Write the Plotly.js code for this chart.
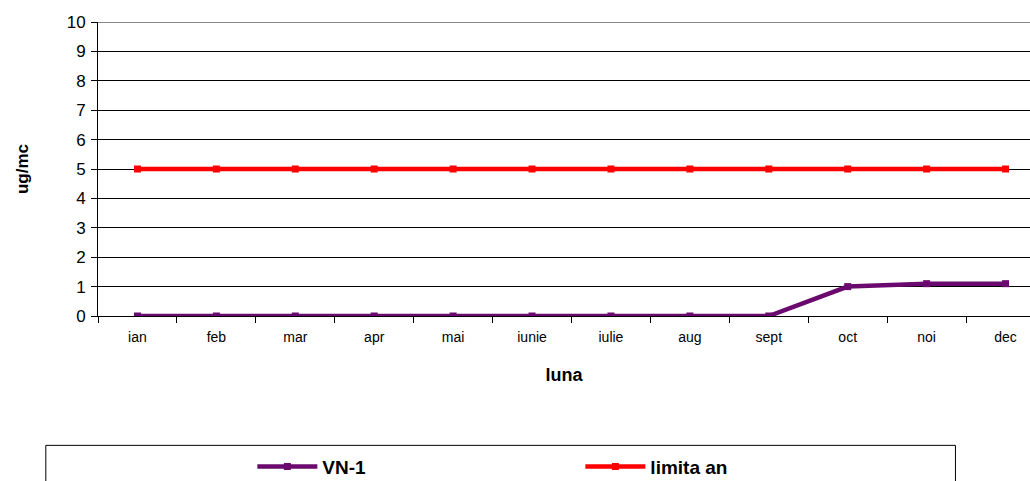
<!DOCTYPE html>
<html>
<head>
<meta charset="utf-8">
<script src="https://cdn.plot.ly/plotly-3.0.1.min.js"></script>
<style>html,body{margin:0;padding:0;background:#fff;}#chart{width:1030px;height:481px;}</style>
</head>
<body>
<div id="chart"></div>
<script>
var months = ["ian","feb","mar","apr","mai","iunie","iulie","aug","sept","oct","noi","dec"];
var vn1 = [0,0,0,0,0,0,0,0,0,1.0,1.1,1.1];
var limita = [5,5,5,5,5,5,5,5,5,5,5,5];
var yTicks = [0,1,2,3,4,5,6,7,8,9,10];

var traces = [
  {x: months, y: vn1, name: "VN-1", type: "scatter", mode: "lines+markers",
   line: {color: "#6B0A6E", width: 4.5}, marker: {symbol: "square", size: 7, color: "#6B0A6E"}},
  {x: months, y: limita, name: "limita an", type: "scatter", mode: "lines+markers",
   line: {color: "#FF0000", width: 4.5}, marker: {symbol: "square", size: 7, color: "#FF0000"}}
];

var layout = {
  width: 1030, height: 481,
  margin: {l: 98, r: 0, t: 22, b: 165, autoexpand: false},
  paper_bgcolor: "#fff", plot_bgcolor: "#fff",
  font: {family: "Liberation Sans, Arial, sans-serif", color: "#000"},
  showlegend: true,
  legend: {orientation: "h", xref: "container", yref: "container",
           x: 0.245, xanchor: "left", y: 0.03, yanchor: "middle",
           entrywidth: 253, entrywidthmode: "pixels", itemwidth: 60,
           font: {size: 19, weight: "bold", family: "Liberation Sans, Arial, sans-serif"}, bgcolor: "rgba(0,0,0,0)"},
  xaxis: {
    type: "category", range: [-0.5, 11.31], tickson: "boundaries",
    ticks: "outside", ticklen: 6, tickcolor: "#000",
    showline: true, linecolor: "#000", linewidth: 1,
    showgrid: false, zeroline: false, ticklabelstandoff: 8,
    tickfont: {size: 14},
    title: {text: "<b>luna</b>", font: {size: 18}, standoff: 24}
  },
  yaxis: {
    range: [0, 10], tickvals: yTicks, ticktext: yTicks.map(String),
    ticks: "outside", ticklen: 6, tickcolor: "#000",
    showline: true, linecolor: "#000", linewidth: 1,
    showgrid: true, gridcolor: "#000", gridwidth: 1, zeroline: false,
    ticklabelstandoff: 2,
    tickfont: {size: 17},
    title: {text: "<b>ug/mc</b>", font: {size: 17}, standoff: 33}
  },
  shapes: [
    {type: "line", xref: "paper", yref: "y", x0: 0, x1: 1, y0: 10, y1: 10,
     line: {color: "#888", width: 2}},
    {type: "rect", xref: "paper", yref: "paper", x0: -0.056, x1: 0.92, y0: -0.44, y1: -0.7,
     line: {color: "#000", width: 1}, fillcolor: "rgba(0,0,0,0)"}
  ]
};

Plotly.newPlot("chart", traces, layout, {displayModeBar: false, staticPlot: true});
</script>
</body>
</html>
